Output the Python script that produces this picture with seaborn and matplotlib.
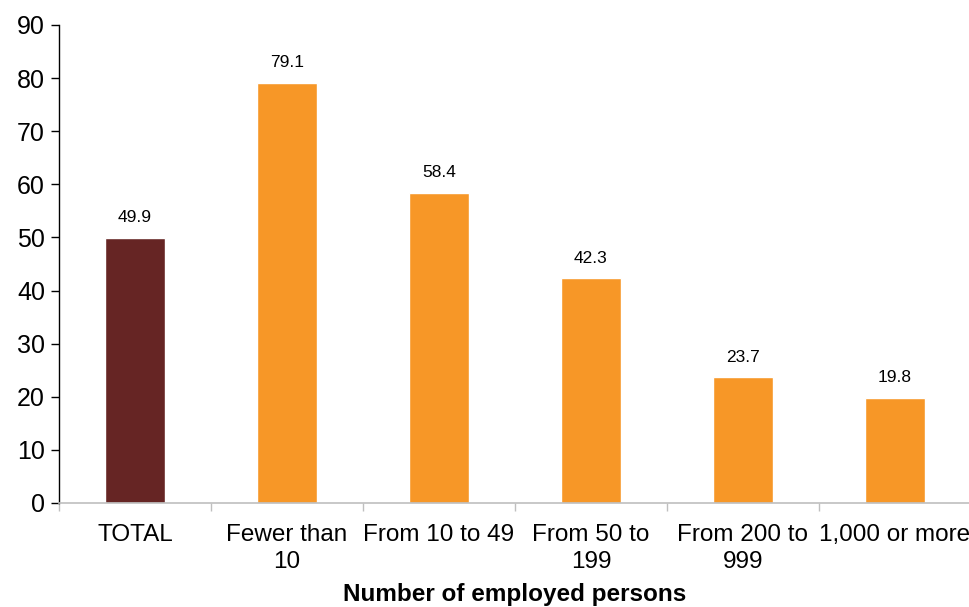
import matplotlib
matplotlib.use("Agg")
import matplotlib.pyplot as plt
import seaborn as sns
import pandas as pd
from matplotlib.ticker import FixedLocator

categories = ["TOTAL", "Fewer than\n10", "From 10 to 49", "From 50 to\n199", "From 200 to\n999", "1,000 or more"]
values = [49.9, 79.1, 58.4, 42.3, 23.7, 19.8]
bar_colors = ["#662524", "#F79727", "#F79727", "#F79727", "#F79727", "#F79727"]
xlabel = "Number of employed persons"
yticks = [0, 10, 20, 30, 40, 50, 60, 70, 80, 90]

sns.set_style("white")
plt.rcParams['font.family'] = ['Liberation Sans', 'DejaVu Sans']
plt.rcParams['text.color'] = '#000000'
plt.rcParams['xtick.color'] = '#000000'
plt.rcParams['ytick.color'] = '#000000'
plt.rcParams['axes.labelcolor'] = '#000000'

df = pd.DataFrame({"cat": categories, "val": values})

fig = plt.figure(figsize=(9.7, 6.07), dpi=100)
ax = fig.add_axes([59/970, 1-503/607, (971-59)/970, (503-25)/607])

sns.barplot(data=df, x="cat", y="val", hue="cat", palette=bar_colors,
            legend=False, width=0.4, ax=ax, saturation=1)

for c in ax.containers:
    ax.bar_label(c, fmt="%.1f", padding=9, fontsize=12.5, color="#000000")

ax.set_ylim(0, 90)
ax.set_xlim(-0.5, len(categories) - 0.5)
ax.set_yticks(yticks)
ax.set_yticklabels([str(t) for t in yticks], fontsize=18)
ax.tick_params(axis="y", direction="out", length=6, width=1, color="#000000", labelcolor="#000000", pad=4, left=True)
ax.tick_params(axis="x", which="major", length=0, labelsize=17.5, labelcolor="#000000", pad=15)
ax.xaxis.set_minor_locator(FixedLocator([i - 0.5 for i in range(len(categories) + 1)]))
ax.tick_params(axis="x", which="minor", direction="out", length=6, width=1, color="#BFBFBF", bottom=True)
for lab in ax.get_xticklabels():
    lab.set_linespacing(1.3)

for s in ["top", "right"]:
    ax.spines[s].set_visible(False)
ax.spines["left"].set_color("#000000")
ax.spines["left"].set_linewidth(1)
ax.spines["bottom"].set_color("#BFBFBF")
ax.spines["bottom"].set_linewidth(1.2)

ax.set_ylabel("")
ax.set_xlabel(xlabel, fontsize=17.5, fontweight="bold", labelpad=7, color="#000000")

fig.savefig("out.png", dpi=100)
